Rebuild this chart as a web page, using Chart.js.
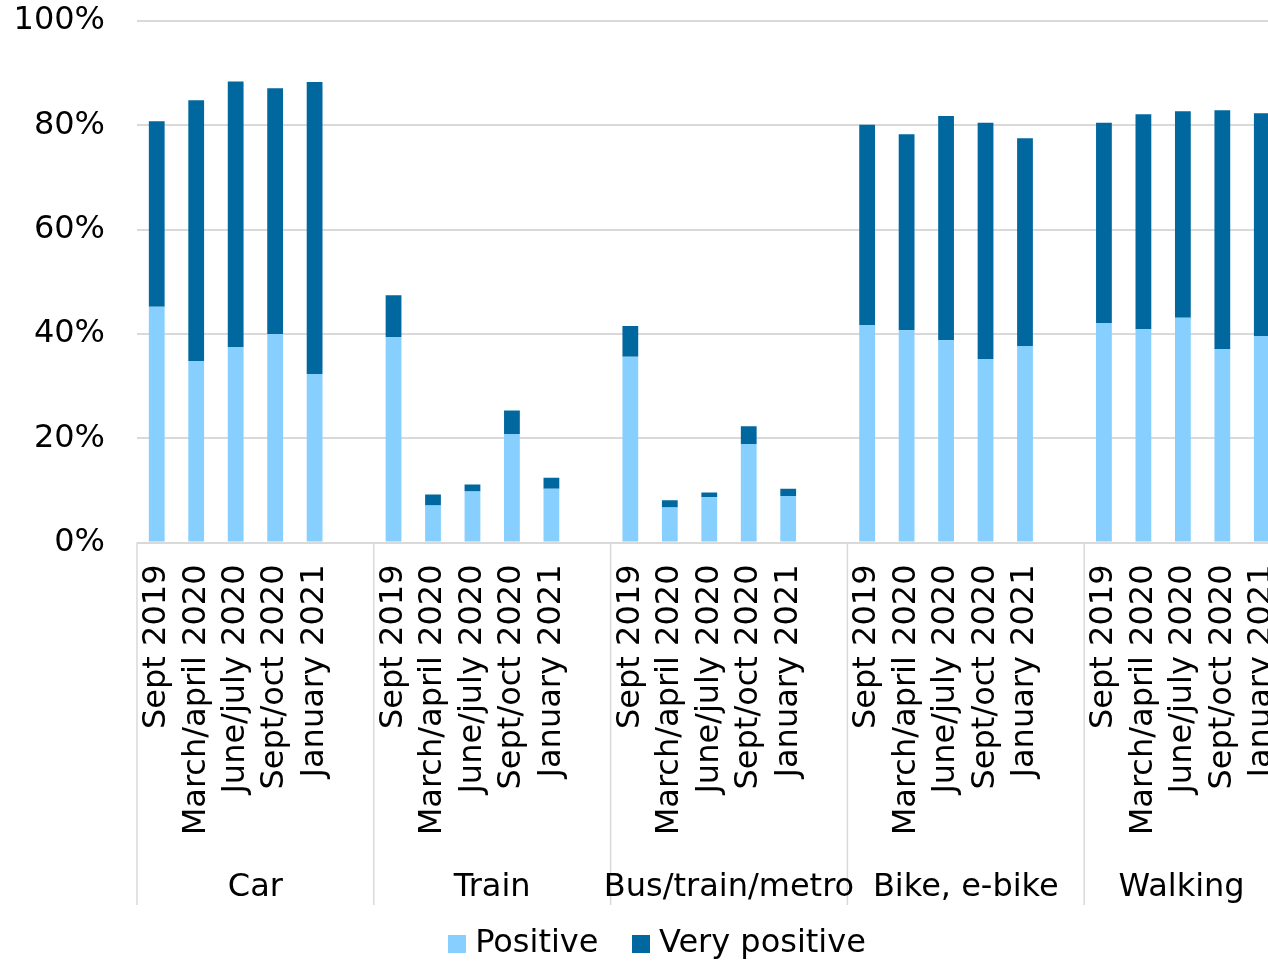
<!DOCTYPE html>
<html>
<head>
<meta charset="utf-8">
<script src="https://cdn.jsdelivr.net/npm/chart.js@4/dist/chart.umd.min.js"></script>
<style>
  html, body { margin: 0; padding: 0; background: #fff; overflow: hidden; }
  #wrap { position: relative; width: 1321px; height: 962px; }
</style>
</head>
<body>
<div id="wrap"><canvas id="chart" width="1321" height="962"></canvas></div>
<script>
// Attitude towards each mode of transport over five survey waves (% of respondents)
const groups = ['Car', 'Train', 'Bus/train/metro', 'Bike, e-bike', 'Walking'];
const periods = ['Sept 2019', 'March/april 2020', 'June/july 2020', 'Sept/oct 2020', 'January 2021'];

// one row per mode, columns follow `periods`
const positive = [
  [45.2, 34.8, 37.5, 40.0, 32.3],
  [39.4, 7.1, 9.8, 20.8, 10.3],
  [35.6, 6.7, 8.7, 18.9, 8.9],
  [41.7, 40.7, 38.8, 35.2, 37.7],
  [42.1, 40.9, 43.1, 37.1, 39.6]
];
const veryPositive = [
  [35.6, 50.0, 50.9, 47.1, 56.0],
  [8.0, 2.1, 1.3, 4.5, 2.1],
  [5.9, 1.4, 0.9, 3.4, 1.4],
  [38.4, 37.6, 43.0, 45.3, 39.8],
  [38.4, 41.2, 39.6, 45.8, 42.7]
];
const yTicks = [0, 20, 40, 60, 80, 100];

const seriesNames = ['Positive', 'Very positive'];
const seriesColors = ['#86CFFF', '#00689E'];

// Flatten into one category axis, with an empty slot closing every group
const labels = [];
const posData = [];
const vpData = [];
groups.forEach((g, gi) => {
  periods.forEach((p, pi) => {
    labels.push(p);
    posData.push(positive[gi][pi]);
    vpData.push(veryPositive[gi][pi]);
  });
  labels.push('');
  posData.push(null);
  vpData.push(null);
});

const FONT = 'DejaVu Sans';
const FONT_SIZE = 32;
const GRID = '#d9d9d9';
const frameRight = 1279; // group captions are centred on the part of a group inside the frame

// Square legend swatches, drawn as point styles so the caption sits close to them
const SWATCH = 18;
const swatches = seriesColors.map(c => {
  const cv = document.createElement('canvas');
  cv.width = SWATCH;
  cv.height = SWATCH;
  const g = cv.getContext('2d');
  g.fillStyle = c;
  g.fillRect(0, 0, SWATCH, SWATCH);
  return cv;
});

// Second level of the category axis: group separators and captions
const groupAxis = {
  id: 'groupAxis',
  afterDraw(chart) {
    const { ctx, chartArea } = chart;
    const x = chart.scales.x;
    const slots = periods.length + 1;
    const half = (x.getPixelForValue(1) - x.getPixelForValue(0)) / 2;
    const bottom = 905;
    ctx.save();
    ctx.strokeStyle = GRID;
    ctx.lineWidth = 1.5;
    const edges = [];
    for (let gi = 0; gi <= groups.length; gi++) {
      const bx = x.getPixelForValue(gi * slots) - half;
      edges.push(bx);
      ctx.beginPath();
      ctx.moveTo(bx, chartArea.bottom);
      ctx.lineTo(bx, bottom);
      ctx.stroke();
    }
    ctx.fillStyle = '#000';
    ctx.font = FONT_SIZE + 'px "' + FONT + '"';
    ctx.textAlign = 'center';
    ctx.textBaseline = 'alphabetic';
    groups.forEach((g, gi) => {
      const cx = (edges[gi] + Math.min(edges[gi + 1], frameRight)) / 2;
      ctx.fillText(g, cx, 896);
    });
    ctx.restore();
  }
};

Chart.defaults.font.family = FONT;
Chart.defaults.color = '#000';

new Chart(document.getElementById('chart'), {
  type: 'bar',
  data: {
    labels,
    datasets: [
      { label: seriesNames[0], data: posData, backgroundColor: seriesColors[0], barPercentage: 0.4, categoryPercentage: 1 },
      { label: seriesNames[1], data: vpData, backgroundColor: seriesColors[1], barPercentage: 0.4, categoryPercentage: 1 }
    ]
  },
  options: {
    responsive: false,
    animation: false,
    devicePixelRatio: 1,
    layout: { padding: { top: 21, right: 0, bottom: -8, left: 0 } },
    plugins: {
      tooltip: { enabled: false },
      legend: {
        position: 'bottom',
        labels: {
          usePointStyle: true,
          boxWidth: 4,
          padding: 40.5,
          color: '#000',
          font: { family: FONT, size: FONT_SIZE },
          generateLabels(chart) {
            const items = Chart.defaults.plugins.legend.labels.generateLabels(chart);
            items.forEach((it, i) => { it.pointStyle = swatches[i]; });
            return items;
          }
        }
      }
    },
    scales: {
      x: {
        stacked: true,
        grid: { display: false },
        border: { display: false },
        ticks: {
          autoSkip: false, minRotation: 90, maxRotation: 90, padding: 14,
          color: '#000', font: { family: FONT, size: FONT_SIZE }
        },
        afterFit(s) { s.height = 345; s.paddingLeft = 0; s.paddingRight = 0; }
      },
      y: {
        stacked: true,
        min: 0,
        max: 100,
        afterBuildTicks(s) { s.ticks = yTicks.map(v => ({ value: v })); },
        grid: { color: GRID, lineWidth: 2, drawTicks: false },
        border: { display: false },
        ticks: { padding: 32, color: '#000', font: { family: FONT, size: FONT_SIZE }, callback: v => v + '%' },
        afterFit(s) { s.width = 137; s.paddingTop = 0; s.paddingBottom = 0; }
      }
    }
  },
  plugins: [groupAxis]
});
</script>
</body>
</html>
